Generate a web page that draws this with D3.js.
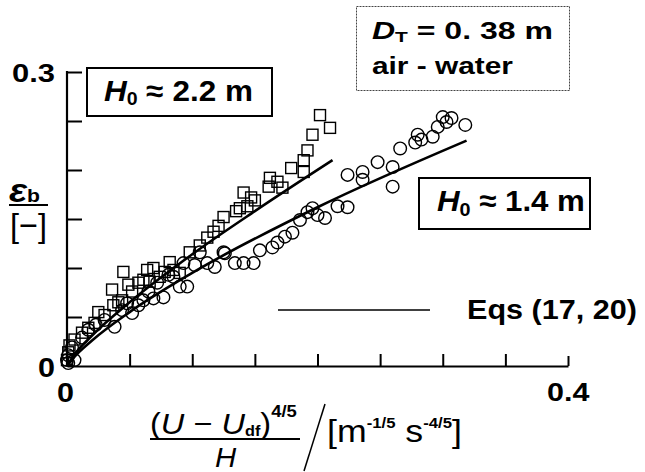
<!DOCTYPE html>
<html><head><meta charset="utf-8">
<script src="https://cdn.jsdelivr.net/npm/d3@7"></script>
<style>html,body{margin:0;padding:0;background:#fff;}svg{display:block;}</style>
</head><body>
<script>
// ---- data ----
const squaresX = [0.202,0.210,0.196,0.192,0.189,0.179,0.189,0.162,0.168,0.161,0.172,0.141,0.147,0.150,0.138,0.135,0.144,0.125,0.121,0.117,0.112,0.106,0.098,0.082,0.078,0.069,0.064,0.085,0.090,0.074,0.066,0.061,0.057,0.052,0.049,0.045,0.036,0.044,0.041,0.037,0.030,0.025,0.022,0.017,0.012,0.006,0.002,0.001,0.000];
const squaresY = [0.256,0.243,0.236,0.220,0.210,0.202,0.198,0.192,0.188,0.183,0.182,0.177,0.172,0.169,0.161,0.158,0.163,0.152,0.143,0.137,0.131,0.123,0.116,0.106,0.096,0.100,0.098,0.098,0.095,0.091,0.086,0.088,0.085,0.076,0.083,0.096,0.078,0.067,0.065,0.062,0.052,0.055,0.044,0.039,0.034,0.027,0.021,0.014,0.006];
const circlesX = [0.307,0.300,0.303,0.318,0.296,0.292,0.280,0.283,0.278,0.266,0.248,0.260,0.260,0.236,0.236,0.224,0.224,0.216,0.196,0.192,0.200,0.186,0.206,0.180,0.174,0.168,0.164,0.154,0.149,0.141,0.134,0.126,0.118,0.112,0.125,0.106,0.102,0.093,0.096,0.090,0.085,0.081,0.077,0.072,0.069,0.065,0.061,0.057,0.052,0.048,0.044,0.038,0.030,0.023,0.017,0.012,0.004,0.001,0.000,0.006,0.001];
const circlesY = [0.253,0.254,0.249,0.246,0.244,0.234,0.236,0.231,0.228,0.222,0.208,0.203,0.183,0.198,0.190,0.195,0.162,0.163,0.161,0.157,0.154,0.149,0.151,0.136,0.132,0.126,0.121,0.118,0.105,0.105,0.105,0.115,0.101,0.105,0.116,0.116,0.103,0.105,0.081,0.081,0.091,0.093,0.070,0.085,0.069,0.076,0.067,0.062,0.054,0.064,0.057,0.040,0.047,0.042,0.037,0.029,0.019,0.011,0.006,0.006,0.003];
const fitSquaresX = [0, 0.005, 0.02, 0.05, 0.10, 0.15, 0.212];
const fitSquaresY = [0, 0.010, 0.031, 0.065, 0.114, 0.158, 0.210];
const fitCirclesX = [0, 0.005, 0.02, 0.05, 0.10, 0.20, 0.319];
const fitCirclesY = [0, 0.008, 0.026, 0.055, 0.095, 0.162, 0.230];
const xTicks = [0, 0.05, 0.10, 0.15, 0.20, 0.25, 0.30, 0.35, 0.40];
const yTicks = [0.05, 0.10, 0.15, 0.20, 0.25, 0.30];
const xTickLabels = ["0", "0.4"];
const yTickLabels = ["0", "0.3"];

// ---- drawing ----
const W = 645, H = 472;
const FONT = "'Liberation Sans', Arial, Helvetica, sans-serif";
const svg = d3.select("body").append("svg").attr("width", W).attr("height", H)
  .style("font-family", FONT).style("font-weight", "bold");
svg.append("rect").attr("width", W).attr("height", H).attr("fill", "#fff");

const x = d3.scaleLinear().domain([0, 0.4]).range([67, 568]);
const y = d3.scaleLinear().domain([0, 0.3]).range([366, 72]);

// stretch a text horizontally so it spans a measured width
function fit(t, px, py, w) {
  const bb = t.node().getBBox();
  const s = w / bb.width;
  t.attr("transform", `translate(${px - bb.x * s},${py}) scale(${s},1)`);
  return t;
}

// axes
const xAxis = d3.axisBottom(x).tickValues(xTicks).tickSize(-12).tickSizeOuter(0).tickFormat("");
const gx = svg.append("g").attr("transform", `translate(0,${y(0)})`).call(xAxis);
gx.select(".domain").attr("stroke-width", 2.2);
gx.selectAll(".tick line").attr("stroke-width", 2);
gx.selectAll(".tick").filter(d => d === 0.4).select("line").attr("y2", -10);

const yAxis = d3.axisLeft(y).tickValues(yTicks).tickSize(-15).tickSizeOuter(0).tickFormat("");
const gy = svg.append("g").attr("transform", `translate(${x(0)},0)`).call(yAxis);
gy.select(".domain").attr("stroke-width", 2.2);
gy.selectAll(".tick line").attr("stroke-width", 2);
gy.select(".domain").attr("d", `M0,${y(0.3) - 1}V${y(0)}`);

// tick labels
fit(svg.append("text").attr("font-size", 26).text(yTickLabels[1]), 12, 82, 43);
fit(svg.append("text").attr("font-size", 28).text(yTickLabels[0]), 38, 377, 17);
fit(svg.append("text").attr("font-size", 28).text(xTickLabels[0]), 57, 402, 17);
fit(svg.append("text").attr("font-size", 26).text(xTickLabels[1]), 547, 401, 43);

// fit curves
const line = d3.line().x(d => x(d[0])).y(d => y(d[1])).curve(d3.curveMonotoneX);
svg.append("path").datum(fitSquaresX.map((v, i) => [v, fitSquaresY[i]]))
  .attr("d", line).attr("fill", "none").attr("stroke", "#000").attr("stroke-width", 2.6);
svg.append("path").datum(fitCirclesX.map((v, i) => [v, fitCirclesY[i]]))
  .attr("d", line).attr("fill", "none").attr("stroke", "#000").attr("stroke-width", 2.6);

// markers
const S = 11;
svg.append("g").selectAll("rect").data(squaresX.map((v, i) => [v, squaresY[i]])).join("rect")
  .attr("x", d => x(d[0]) - S / 2).attr("y", d => y(d[1]) - S / 2)
  .attr("width", S).attr("height", S)
  .attr("fill", "none").attr("stroke", "#000").attr("stroke-width", 1.4);
svg.append("g").selectAll("circle").data(circlesX.map((v, i) => [v, circlesY[i]])).join("circle")
  .attr("cx", d => x(d[0])).attr("cy", d => y(d[1])).attr("r", 6.3)
  .attr("fill", "none").attr("stroke", "#000").attr("stroke-width", 1.4);

// H0 = 2.2 m box
svg.append("rect").attr("x", 87).attr("y", 68).attr("width", 185).attr("height", 48)
  .attr("fill", "#fff").attr("stroke", "#000").attr("stroke-width", 2);
{
  const t = svg.append("text").attr("font-size", 29);
  t.append("tspan").attr("font-style", "italic").text("H");
  t.append("tspan").attr("font-size", 18).attr("dy", 4).text("0");
  t.append("tspan").attr("dy", -4).text(" \u2248 2.2 m");
  fit(t, 104, 101, 149);
}
// H0 = 1.4 m box
svg.append("rect").attr("x", 419).attr("y", 178).attr("width", 171).attr("height", 51)
  .attr("fill", "#fff").attr("stroke", "#000").attr("stroke-width", 2);
{
  const t = svg.append("text").attr("font-size", 30);
  t.append("tspan").attr("font-style", "italic").text("H");
  t.append("tspan").attr("font-size", 19).attr("dy", 5).text("0");
  t.append("tspan").attr("dy", -5).text(" \u2248 1.4 m");
  fit(t, 437, 211, 148);
}
// D_T box
svg.append("rect").attr("x", 356.5).attr("y", 6.5).attr("width", 213).attr("height", 84)
  .attr("fill", "none").attr("stroke", "#444").attr("stroke-width", 1).attr("stroke-dasharray", "2,1");
{
  const t = svg.append("text").attr("font-size", 23);
  t.append("tspan").attr("font-style", "italic").text("D");
  t.append("tspan").attr("font-size", 15).attr("dy", 3).text("T");
  t.append("tspan").attr("dy", -3).text(" = 0. 38 m");
  fit(t, 372, 39, 181);
  fit(svg.append("text").attr("font-size", 23).text("air - water"), 372, 74, 141);
}

// legend
svg.append("line").attr("x1", 278).attr("x2", 430).attr("y1", 310).attr("y2", 310)
  .attr("stroke", "#000").attr("stroke-width", 1.6);
fit(svg.append("text").attr("font-size", 27).text("Eqs (17, 20)"), 467, 319, 170);

// y label
{
  const t = svg.append("text").attr("font-size", 34);
  t.append("tspan").attr("font-style", "italic").text("\u03b5");
  t.append("tspan").attr("font-size", 19).text("b");
  fit(t, 9, 202, 31);
  svg.append("line").attr("x1", 9).attr("x2", 48).attr("y1", 205).attr("y2", 205)
    .attr("stroke", "#000").attr("stroke-width", 2);
  fit(svg.append("text").attr("font-size", 34).attr("font-weight", "normal").text("[\u2212]"), 10, 237, 37);
}

// x label
{
  const t = svg.append("text").attr("font-size", 30).attr("font-weight", "normal");
  t.append("tspan").text("(");
  t.append("tspan").attr("font-style", "italic").text("U");
  t.append("tspan").text(" \u2212 ");
  t.append("tspan").attr("font-style", "italic").text("U");
  t.append("tspan").attr("font-size", 15).attr("font-weight", "bold").attr("dy", 2).text("df");
  t.append("tspan").attr("dy", -2).text(")");
  t.append("tspan").attr("font-size", 17).attr("font-weight", "bold").attr("dy", -17).text("4/5");
  fit(t, 150, 434, 147);
  svg.append("line").attr("x1", 150).attr("x2", 300).attr("y1", 439).attr("y2", 439)
    .attr("stroke", "#000").attr("stroke-width", 2);
  const h = svg.append("text").attr("font-size", 28).attr("font-weight", "normal")
    .attr("font-style", "italic").text("H");
  fit(h, 215, 467, 22);
  svg.append("line").attr("x1", 304).attr("y1", 471).attr("x2", 325).attr("y2", 404)
    .attr("stroke", "#000").attr("stroke-width", 1.5);
  const u = svg.append("text").attr("font-size", 32).attr("font-weight", "normal");
  u.append("tspan").text("[m");
  u.append("tspan").attr("font-size", 15).attr("font-weight", "bold").attr("dy", -14).text("-1/5");
  u.append("tspan").attr("font-size", 32).attr("dy", 14).text(" s");
  u.append("tspan").attr("font-size", 15).attr("font-weight", "bold").attr("dy", -14).text("-4/5");
  u.append("tspan").attr("font-size", 32).attr("dy", 14).text("]");
  fit(u, 327, 442, 135);
}
</script>
</body></html>
